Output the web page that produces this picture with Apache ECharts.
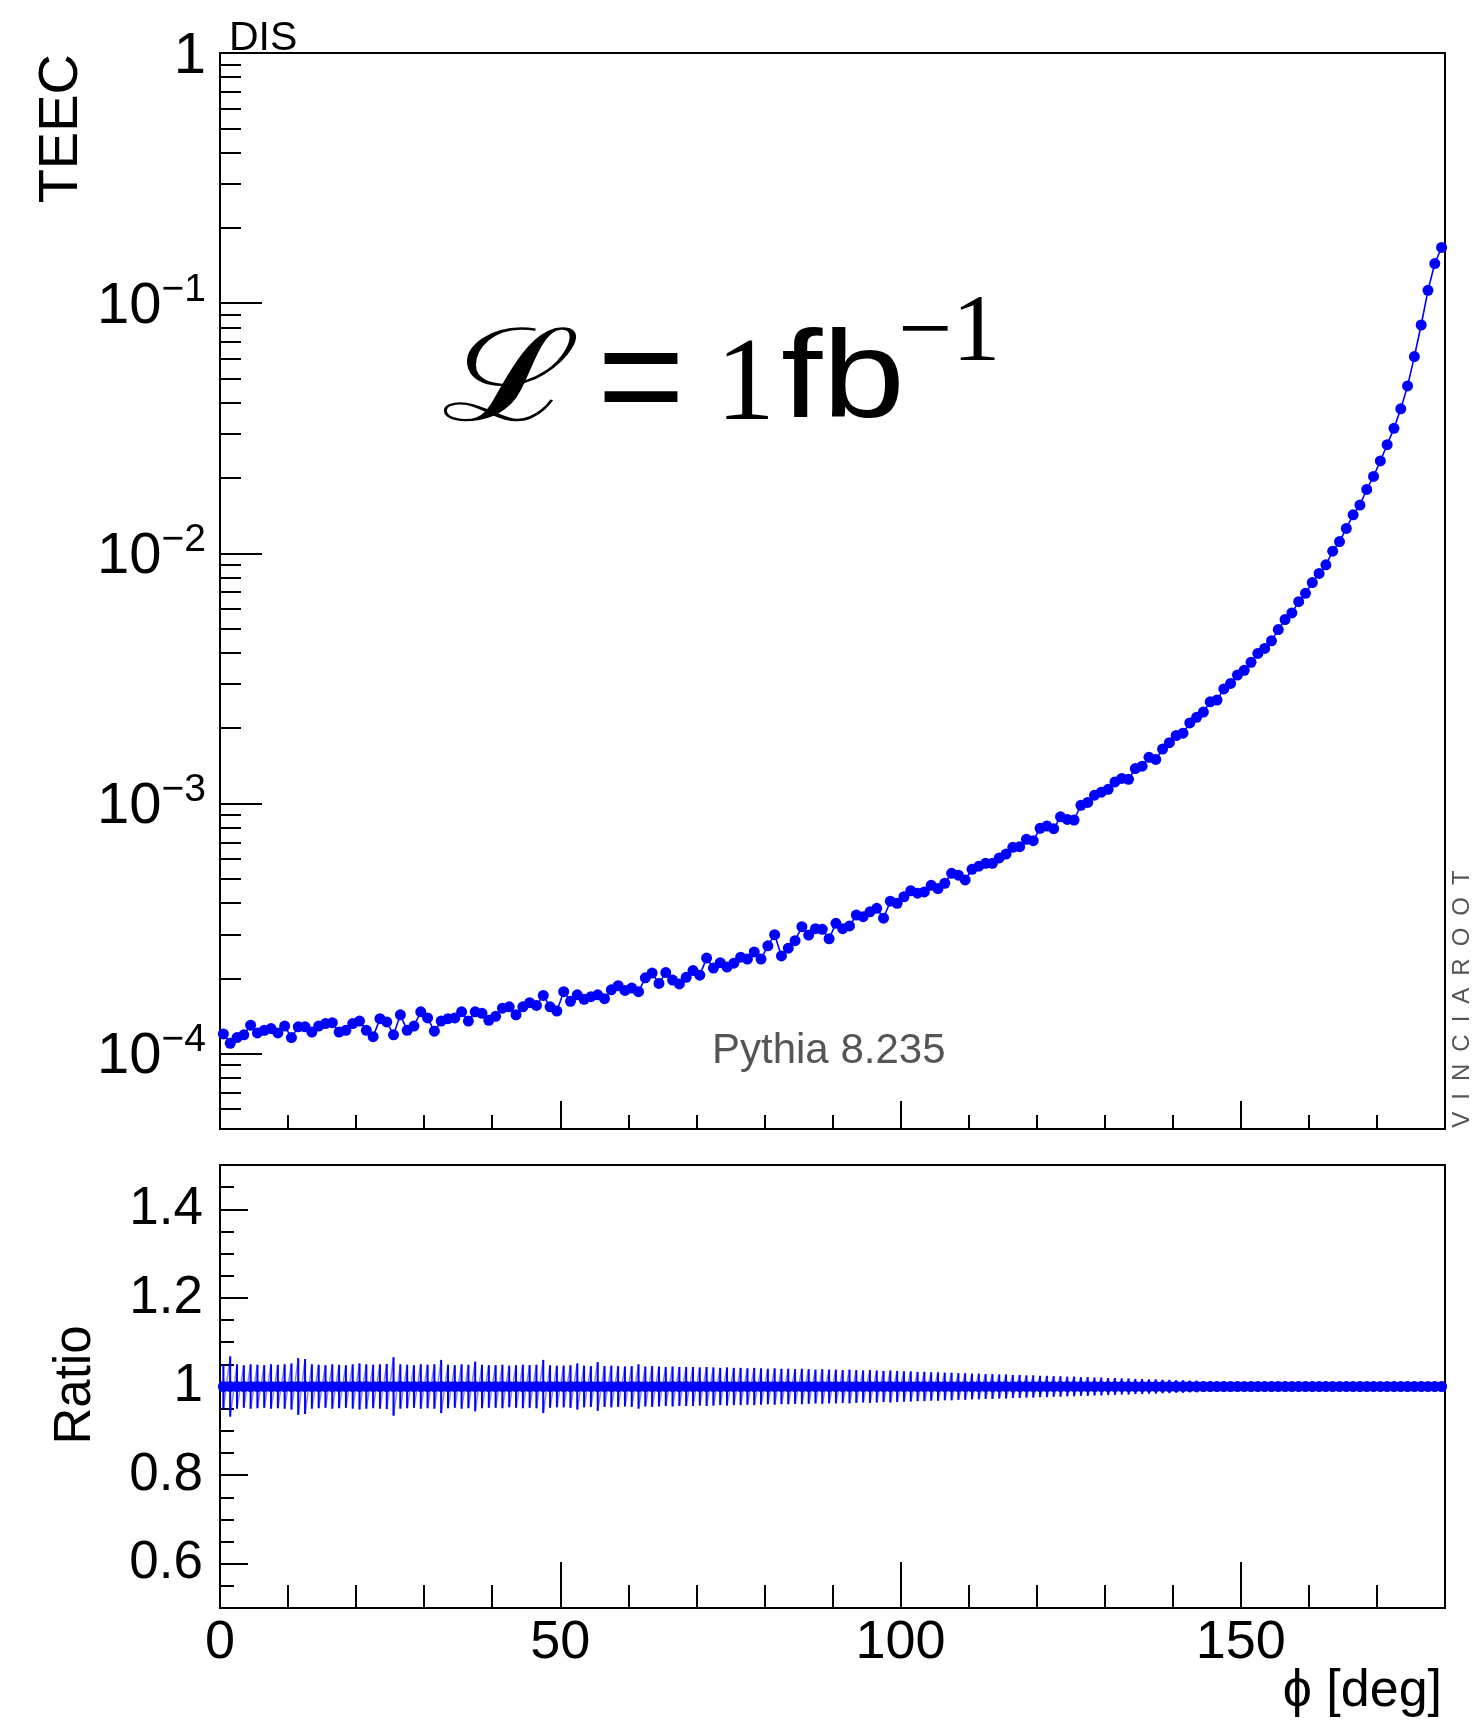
<!DOCTYPE html>
<html>
<head>
<meta charset="utf-8">
<script src="https://cdn.jsdelivr.net/npm/echarts@6/dist/echarts.min.js"></script>
<style>
  html, body { margin: 0; padding: 0; background: #fff; }
  #chart { width: 1476px; height: 1720px; }
</style>
</head>
<body>
<div id="chart"></div>
<script>
// Transverse energy-energy correlation, 180 one-degree bins in phi
const phiBins = Array.from({ length: 180 }, (_, i) => i + 0.5);

const teec = [
  1.20e-4, 1.10e-4, 1.16e-4, 1.19e-4, 1.30e-4, 1.21e-4, 1.24e-4, 1.26e-4, 1.21e-4, 1.29e-4,
  1.16e-4, 1.28e-4, 1.28e-4, 1.22e-4, 1.29e-4, 1.32e-4, 1.33e-4, 1.22e-4, 1.24e-4, 1.32e-4,
  1.35e-4, 1.24e-4, 1.17e-4, 1.38e-4, 1.34e-4, 1.19e-4, 1.43e-4, 1.24e-4, 1.29e-4, 1.47e-4,
  1.39e-4, 1.23e-4, 1.35e-4, 1.38e-4, 1.39e-4, 1.47e-4, 1.35e-4, 1.47e-4, 1.45e-4, 1.36e-4,
  1.41e-4, 1.52e-4, 1.54e-4, 1.43e-4, 1.54e-4, 1.60e-4, 1.56e-4, 1.71e-4, 1.54e-4, 1.48e-4,
  1.77e-4, 1.62e-4, 1.72e-4, 1.65e-4, 1.69e-4, 1.72e-4, 1.66e-4, 1.80e-4, 1.87e-4, 1.79e-4,
  1.83e-4, 1.77e-4, 2.01e-4, 2.10e-4, 1.91e-4, 2.11e-4, 1.97e-4, 1.90e-4, 2.02e-4, 2.15e-4,
  2.06e-4, 2.41e-4, 2.20e-4, 2.31e-4, 2.22e-4, 2.30e-4, 2.43e-4, 2.39e-4, 2.55e-4, 2.39e-4,
  2.70e-4, 2.99e-4, 2.46e-4, 2.64e-4, 2.83e-4, 3.22e-4, 2.98e-4, 3.16e-4, 3.14e-4, 2.88e-4,
  3.32e-4, 3.16e-4, 3.24e-4, 3.58e-4, 3.53e-4, 3.69e-4, 3.81e-4, 3.48e-4, 4.07e-4, 3.99e-4,
  4.24e-4, 4.48e-4, 4.38e-4, 4.43e-4, 4.71e-4, 4.57e-4, 4.80e-4, 5.26e-4, 5.17e-4, 4.95e-4,
  5.46e-4, 5.62e-4, 5.77e-4, 5.77e-4, 6.06e-4, 6.28e-4, 6.68e-4, 6.72e-4, 7.19e-4, 7.10e-4,
  7.96e-4, 8.13e-4, 7.93e-4, 8.85e-4, 8.64e-4, 8.59e-4, 9.84e-4, 1.01e-3, 1.08e-3, 1.11e-3,
  1.14e-3, 1.22e-3, 1.26e-3, 1.25e-3, 1.38e-3, 1.41e-3, 1.53e-3, 1.50e-3, 1.65e-3, 1.75e-3,
  1.87e-3, 1.91e-3, 2.10e-3, 2.21e-3, 2.32e-3, 2.55e-3, 2.59e-3, 2.87e-3, 3.02e-3, 3.26e-3,
  3.41e-3, 3.67e-3, 3.98e-3, 4.17e-3, 4.47e-3, 4.96e-3, 5.44e-3, 5.78e-3, 6.41e-3, 6.92e-3,
  7.64e-3, 8.31e-3, 9.00e-3, 1.02e-2, 1.115e-2, 1.258e-2, 1.425e-2, 1.56e-2, 1.80e-2, 2.03e-2,
  2.34e-2, 2.72e-2, 3.16e-2, 3.78e-2, 4.67e-2, 6.12e-2, 8.18e-2, 0.1126, 0.144, 0.167
];

// Ratio to reference: identical samples, so every bin sits at 1
const ratio = [
  1,1,1,1,1,1,1,1,1,1, 1,1,1,1,1,1,1,1,1,1, 1,1,1,1,1,1,1,1,1,1,
  1,1,1,1,1,1,1,1,1,1, 1,1,1,1,1,1,1,1,1,1, 1,1,1,1,1,1,1,1,1,1,
  1,1,1,1,1,1,1,1,1,1, 1,1,1,1,1,1,1,1,1,1, 1,1,1,1,1,1,1,1,1,1,
  1,1,1,1,1,1,1,1,1,1, 1,1,1,1,1,1,1,1,1,1, 1,1,1,1,1,1,1,1,1,1,
  1,1,1,1,1,1,1,1,1,1, 1,1,1,1,1,1,1,1,1,1, 1,1,1,1,1,1,1,1,1,1,
  1,1,1,1,1,1,1,1,1,1, 1,1,1,1,1,1,1,1,1,1, 1,1,1,1,1,1,1,1,1,1
];

// Statistical uncertainty on the ratio (half-width of each error bar)
const ratioErr = [
  0.050, 0.068, 0.050, 0.048, 0.050, 0.049, 0.048, 0.050, 0.049, 0.050,
  0.052, 0.064, 0.062, 0.050, 0.049, 0.048, 0.050, 0.049, 0.048, 0.050,
  0.052, 0.050, 0.049, 0.050, 0.051, 0.066, 0.050, 0.049, 0.048, 0.050,
  0.049, 0.050, 0.060, 0.049, 0.048, 0.050, 0.049, 0.056, 0.049, 0.048,
  0.048, 0.049, 0.047, 0.048, 0.049, 0.048, 0.049, 0.060, 0.048, 0.047,
  0.047, 0.048, 0.052, 0.047, 0.046, 0.055, 0.046, 0.047, 0.046, 0.045,
  0.046, 0.050, 0.045, 0.046, 0.045, 0.044, 0.045, 0.044, 0.044, 0.044,
  0.043, 0.044, 0.043, 0.042, 0.043, 0.042, 0.042, 0.041, 0.042, 0.041,
  0.040, 0.041, 0.040, 0.040, 0.039, 0.040, 0.039, 0.038, 0.039, 0.038,
  0.038, 0.037, 0.038, 0.037, 0.036, 0.037, 0.036, 0.035, 0.036, 0.035,
  0.034, 0.034, 0.033, 0.033, 0.032, 0.032, 0.031, 0.031, 0.030, 0.030,
  0.029, 0.029, 0.028, 0.028, 0.027, 0.027, 0.026, 0.026, 0.025, 0.025,
  0.024, 0.024, 0.023, 0.023, 0.022, 0.022, 0.021, 0.021, 0.020, 0.020,
  0.019, 0.019, 0.018, 0.018, 0.017, 0.017, 0.016, 0.016, 0.015, 0.015,
  0.014, 0.014, 0.013, 0.013, 0.012, 0.012, 0.011, 0.011, 0.010, 0.010,
  0.0095, 0.009, 0.0085, 0.008, 0.0075, 0.007, 0.0065, 0.006, 0.0058, 0.0055,
  0.005, 0.0048, 0.0045, 0.0042, 0.004, 0.0037, 0.0035, 0.0032, 0.003, 0.0028,
  0.0025, 0.0023, 0.002, 0.0018, 0.0016, 0.0014, 0.0012, 0.001, 0.0009, 0.0008
];

// Axis tick positions
const teecDecades = [1e-4, 1e-3, 1e-2, 1e-1, 1];
const teecMinorTicks = [6e-5, 7e-5, 8e-5, 9e-5];
[1e-4, 1e-3, 1e-2, 1e-1].forEach(d => { for (let m = 2; m <= 9; m++) teecMinorTicks.push(+(m * d).toPrecision(3)); });
const ratioTicks = [0.6, 0.8, 1, 1.2, 1.4];

const SANS = '"Liberation Sans", Arial, Helvetica, sans-serif';
const SERIF = '"Liberation Serif", "Times New Roman", serif';
const SCRIPT = '"DejaVu Serif", serif';
const BLUE = '#0000ff';

const chart = echarts.init(document.getElementById('chart'), null, { renderer: 'canvas' });

const tick = (len) => ({ show: true, inside: true, length: len, lineStyle: { color: '#000', width: 2 } });
const noLine = { show: false };

const gridTop = { left: 220, right: 31, top: 53, height: 1076 };
const gridBottom = { left: 220, right: 31, top: 1165, height: 443 };

// text placed by its baseline: zrender centres on the em box, so shift by a per-font fraction of the size
const atBaseline = (x, baseline, text, size, family, shift, scaleX) => ({
  type: 'text', x: x, y: baseline - shift * size, scaleX: scaleX || 1,
  style: { text: text, font: size + 'px ' + family, fill: '#000', align: 'left', verticalAlign: 'middle' }
});

const option = {
  animation: false,
  backgroundColor: '#fff',
  grid: [
    Object.assign({ show: true, borderColor: '#000', borderWidth: 2, backgroundColor: 'transparent' }, gridTop),
    Object.assign({ show: true, borderColor: '#000', borderWidth: 2, backgroundColor: 'transparent' }, gridBottom)
  ],
  xAxis: [
    { gridIndex: 0, type: 'value', position: 'bottom', min: 0, max: 180, interval: 50,
      axisLine: noLine, axisTick: tick(28), axisLabel: { show: false }, splitLine: { show: false } },
    { gridIndex: 0, type: 'value', position: 'bottom', min: 0, max: 180, interval: 10,
      axisLine: noLine, axisTick: tick(14), axisLabel: { show: false }, splitLine: { show: false } },
    { gridIndex: 1, type: 'value', position: 'bottom', min: 0, max: 180, interval: 50,
      axisLine: noLine, axisTick: tick(46),
      axisLabel: { show: true, margin: 8, fontSize: 54, fontFamily: SANS, color: '#000', showMaxLabel: false },
      splitLine: { show: false } },
    { gridIndex: 1, type: 'value', position: 'bottom', min: 0, max: 180, interval: 10,
      axisLine: noLine, axisTick: tick(23), axisLabel: { show: false }, splitLine: { show: false } }
  ],
  yAxis: [
    { gridIndex: 0, type: 'log', logBase: 10, position: 'left', min: 5e-5, max: 1,
      axisLine: noLine,
      axisTick: Object.assign(tick(42), { customValues: teecDecades }),
      axisLabel: {
        show: true, margin: 14, customValues: teecDecades, color: '#000',
        formatter: (v) => {
          const k = Math.round(Math.log10(v));
          return k === 0 ? '{b|1}' : '{b|10}{s|\u2212' + (-k) + '}';
        },
        rich: {
          b: { fontSize: 58, lineHeight: 58, fontFamily: SANS, color: '#000', padding: [7, 0, 0, 0] },
          s: { fontSize: 39, lineHeight: 39, fontFamily: SANS, color: '#000', padding: [0, 0, 26, 0] }
        }
      },
      splitLine: { show: false } },
    { gridIndex: 0, type: 'log', logBase: 10, position: 'left', min: 5e-5, max: 1,
      axisLine: noLine,
      axisTick: Object.assign(tick(21), { customValues: teecMinorTicks }),
      axisLabel: { show: false }, splitLine: { show: false } },
    { gridIndex: 1, type: 'value', position: 'left', min: 0.5, max: 1.5,
      axisLine: noLine,
      axisTick: Object.assign(tick(28), { customValues: ratioTicks }),
      axisLabel: { show: true, margin: 17, customValues: ratioTicks, fontSize: 53, fontFamily: SANS, color: '#000' },
      splitLine: { show: false } },
    { gridIndex: 1, type: 'value', position: 'left', min: 0.5, max: 1.5, interval: 0.05,
      axisLine: noLine, axisTick: tick(14), axisLabel: { show: false }, splitLine: { show: false } }
  ],
  series: [
    {
      name: 'TEEC', type: 'line', xAxisIndex: 0, yAxisIndex: 0,
      data: phiBins.map((x, i) => [x, teec[i]]),
      symbol: 'circle', symbolSize: 11, showAllSymbol: true,
      itemStyle: { color: BLUE },
      lineStyle: { color: BLUE, width: 1.6 },
      z: 3
    },
    {
      // zig-zag outline joining the ends of neighbouring error bars
      name: 'band', type: 'line', xAxisIndex: 2, yAxisIndex: 2,
      data: phiBins.flatMap((x, i) => [[x, ratio[i] + ratioErr[i]], [x, ratio[i] - ratioErr[i]]]),
      symbol: 'none', lineStyle: { color: 'rgba(0,0,255,0.5)', width: 1.5 },
      z: 2
    },
    {
      name: 'errors', type: 'custom', xAxisIndex: 2, yAxisIndex: 2,
      data: phiBins.map((x, i) => [x, ratio[i], ratioErr[i]]),
      encode: { x: 0, y: 1 },
      renderItem: (params, api) => {
        const x = api.value(0), r = api.value(1), e = api.value(2);
        const hi = api.coord([x, r + e]);
        const lo = api.coord([x, r - e]);
        return { type: 'line', shape: { x1: hi[0], y1: hi[1], x2: lo[0], y2: lo[1] },
                 style: { stroke: BLUE, lineWidth: 2 } };
      },
      z: 3
    },
    {
      name: 'Ratio', type: 'line', xAxisIndex: 2, yAxisIndex: 2,
      data: phiBins.map((x, i) => [x, ratio[i]]),
      symbol: 'circle', symbolSize: 11, showAllSymbol: true,
      itemStyle: { color: BLUE },
      lineStyle: { color: BLUE, width: 1.5 },
      z: 4
    }
  ],
  graphic: [
    { type: 'text', x: 229, y: 59, style: { text: 'DIS', font: '41px ' + SANS, fill: '#000', verticalAlign: 'bottom' } },
    { type: 'text', x: 62, y: 54, rotation: Math.PI / 2,
      style: { text: 'TEEC', font: '56px ' + SANS, fill: '#000', align: 'right', verticalAlign: 'middle' } },
    { type: 'text', x: 76, y: 1385, rotation: Math.PI / 2,
      style: { text: 'Ratio', font: '51px ' + SANS, fill: '#000', align: 'center', verticalAlign: 'middle' } },
    { type: 'text', x: 1442, y: 1718,
      style: { text: '\u03d5 [deg]', font: '52px ' + SANS, fill: '#000', align: 'right', verticalAlign: 'bottom' } },
    { type: 'text', x: 712, y: 1051,
      style: { text: 'Pythia 8.235', font: '42px ' + SANS, fill: '#555', align: 'left', verticalAlign: 'middle' } },
    { type: 'text', x: 1462, y: 999, rotation: Math.PI / 2,
      style: { text: 'V\u2002I\u2002N\u2002C\u2002I\u2002A\u2002R\u2002O\u2002O\u2002T', font: '24px ' + SANS, fill: '#555',
               align: 'center', verticalAlign: 'middle' } },
    // integrated luminosity
    atBaseline(442, 421, '\u2112', 128, SCRIPT, 0.265, 1.3),
    { type: 'text', x: 641, y: 386,
      style: { text: '=', font: '150px ' + SANS, fill: '#000', align: 'center', verticalAlign: 'middle' } },
    atBaseline(716, 423, '1', 118, SERIF, 0.30),
    atBaseline(781, 420, 'fb', 124, SANS, 0.30, 1.2),
    atBaseline(898, 364, '\u22121', 96, SERIF, 0.30)
  ]
};

chart.setOption(option);
</script>
</body>
</html>
